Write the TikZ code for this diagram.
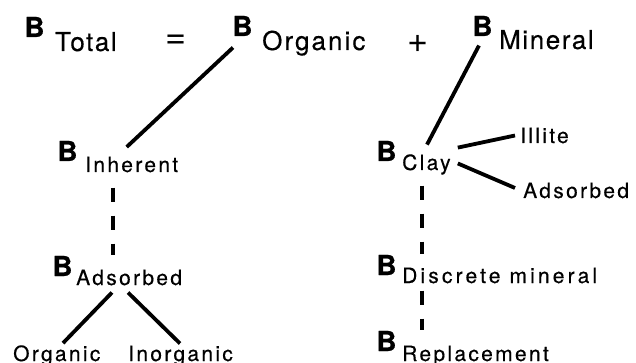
\documentclass[tikz,border=0pt]{standalone}
\usepackage{fontspec}
\setmainfont{TeX Gyre Heros}
\newfontfamily\topsubfont[LetterSpace=6,FakeBold=0.4]{TeX Gyre Heros}
\newfontfamily\lowsubfont[LetterSpace=11,FakeBold=0.4]{TeX Gyre Heros}
\usetikzlibrary{calc}
\tikzset{
  bsym/.style={inner sep=0pt, anchor=base west, font=\bfseries\addfontfeature{FakeBold=0.8}, scale=2.75},
  topsub/.style={inner sep=0pt, anchor=base west, font=\topsubfont\fontsize{26}{30}\selectfont},
  lowsub/.style={inner sep=0pt, anchor=base west, font=\lowsubfont\fontsize{21}{25}\selectfont},
  opsym/.style={inner sep=0pt, anchor=center, scale=3.6},
  link/.style={line width=3.8pt},
  dlink/.style={line width=3.8pt, dash pattern=on 14pt off 14pt},
}
\begin{document}
\begin{tikzpicture}[x=1pt,y=-1pt]
\useasboundingbox (0,0) rectangle (636,363);
% top row
\node[bsym] (bTot) at (24,37) {B};
\node[topsub] (sTot) at (55,51) {Total};
\node[opsym] (eq) at (176.5,42) {=};
\node[bsym] (bOrg) at (232,36) {B};
\node[topsub] (sOrg) at (262,50) {\addfontfeature{LetterSpace=8}Organic};
\node[opsym] (plus) at (418.5,43.5) {+};
\node[bsym] (bMin) at (472,36) {B};
\node[topsub] (sMin) at (499,49) {Mineral};
% organic branch
\node[bsym] (bInh) at (57,161) {B};
\node[lowsub] (sInh) at (85,172) {Inherent};
\node[bsym] (bAds) at (52,276) {B};
\node[lowsub] (sAds) at (76,285) {Adsorbed};
\node[lowsub] (oOrg) at (13,361) {Organic};
\node[lowsub] (oInorg) at (128,361) {Inorganic};
% mineral branch
\node[bsym] (bClay) at (376,161) {B};
\node[lowsub] (sClay) at (402,170) {Clay};
\node[lowsub] (ill) at (520,143) {Illite};
\node[lowsub] (adsR) at (523,198) {Adsorbed};
\node[bsym] (bDis) at (376,275) {B};
\node[lowsub] (sDis) at (402,283) {\addfontfeature{LetterSpace=15}Discrete mineral};
\node[bsym] (bRep) at (376,351) {B};
\node[lowsub] (sRep) at (402,361) {Replacement};
% connectors
\draw[link] ($(bOrg.south west)+(1,11)$) -- ($(sInh.north)+(-5,-9.5)$);
\draw[link] ($(bMin.south west)+(7,9)$) -- ($(sClay.north west)+(25,-9.5)$);
\coordinate (inhD) at ($(sInh.south west)+(28,15)$);
\draw[dlink] (inhD) -- (inhD |- bAds.north);
\draw[link] ($(sAds.south west)+(36,7)$) -- ($(oOrg.north west)+(50,-2)$);
\draw[link] ($(sAds.south west)+(52,7)$) -- ($(oInorg.north west)+(52,-2)$);
\draw[link] ($(sClay.north east)+(7,-6.5)$) -- ($(ill.west)+(-5,0)$);
\draw[link] ($(sClay.east)+(7,-1)$) -- ($(adsR.west)+(-8,-2.5)$);
\coordinate (clayD) at ($(bClay.south west)+(46,24)$);
\draw[dlink] (clayD) -- (clayD |- bDis.north);
\coordinate (disD) at ($(bDis.south west)+(46,15)$);
\draw[dlink] (disD) -- (disD |- bRep.north);
\end{tikzpicture}
\end{document}
